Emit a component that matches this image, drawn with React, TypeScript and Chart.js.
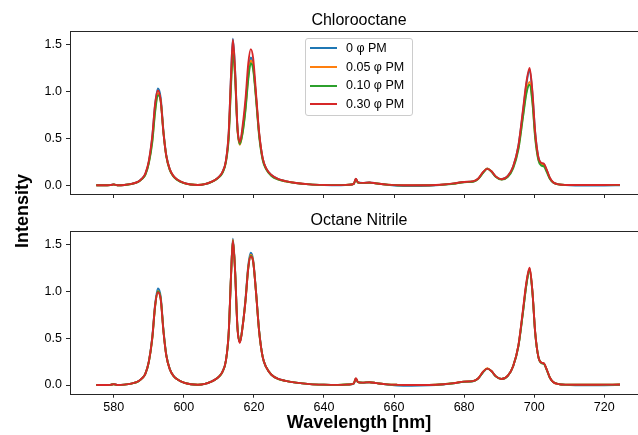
import React, { useEffect, useRef } from "react";
import { Chart, registerables } from "chart.js";

Chart.register(...registerables);

const FONT = '"Liberation Sans", Arial, Helvetica, sans-serif';

// ---- data ----
const wavelengths = [
  575, 577, 579, 580, 581, 583, 585, 587, 588, 589, 590, 591, 591.8, 592.6, 593.4, 594.2, 595, 596, 597, 598, 600,
  602, 604, 606, 608, 609, 610, 611, 612,
  612.8, 613.5, 614, 614.6, 615.3, 616, 616.8, 617.6, 618.4, 619.1, 619.8, 620.6, 621.5, 622.5, 623.5,
  625, 627, 629, 632, 636, 640, 644, 647, 648.5, 649.1, 649.7, 651, 653, 655, 658,
  661, 665, 670, 674, 677, 680, 682.5, 684, 685.5, 686.6, 687.8, 689, 690.7, 692.5,
  694, 695.5, 696.8, 697.8, 698.7, 699.5, 700.3, 701.2, 702, 702.8, 703.6, 704.5, 705.5,
  707, 709, 712, 716, 720, 724.5,
];

const seriesLabels = ["0 φ PM", "0.05 φ PM", "0.10 φ PM", "0.30 φ PM"];
const seriesColors = ["#1f77b4", "#ff7f0e", "#2ca02c", "#d62728"];

// Chlorooctane panel
const chloro0 = [
  0.0, 0.0, 0.002, 0.01, 0.001, 0.004, 0.015, 0.04, 0.07, 0.12, 0.25, 0.52, 0.86, 1.03, 0.93, 0.57, 0.32, 0.17, 0.1, 0.065, 0.025,
  0.008, 0.002, 0.012, 0.04, 0.06, 0.09, 0.14, 0.26,
  0.55, 1.2, 1.56, 1.25, 0.62, 0.45, 0.6, 0.85, 1.2, 1.36, 1.27, 0.95, 0.55, 0.29, 0.18,
  0.11, 0.065, 0.045, 0.025, 0.01, 0.003, 0.0, 0.005, 0.015, 0.068, 0.03, 0.025, 0.03, 0.02, 0.006,
  -0.006, -0.008, -0.004, 0.006, 0.018, 0.035, 0.04, 0.07, 0.14, 0.18, 0.15, 0.095, 0.065, 0.1,
  0.2, 0.42, 0.78, 1.08, 1.23, 0.98, 0.56, 0.3, 0.235, 0.225, 0.16, 0.075, 0.03,
  0.01, 0.002, -0.002, -0.003, -0.002, 0.0,
];
const chloro005 = [
  0.0, 0.0, 0.002, 0.008, 0.001, 0.004, 0.014, 0.038, 0.066, 0.115, 0.24, 0.48, 0.8, 0.98, 0.9, 0.56, 0.31, 0.165, 0.098, 0.062, 0.024,
  0.008, 0.003, 0.012, 0.038, 0.058, 0.087, 0.135, 0.25,
  0.52, 1.12, 1.46, 1.2, 0.6, 0.43, 0.57, 0.82, 1.16, 1.33, 1.25, 0.94, 0.54, 0.28, 0.175,
  0.105, 0.062, 0.043, 0.024, 0.01, 0.004, 0.002, 0.006, 0.015, 0.062, 0.03, 0.024, 0.028, 0.019, 0.007,
  0.001, -0.001, 0.0, 0.007, 0.018, 0.034, 0.04, 0.068, 0.14, 0.18, 0.15, 0.094, 0.063, 0.095,
  0.19, 0.4, 0.74, 1.0, 1.1, 0.9, 0.52, 0.28, 0.225, 0.215, 0.155, 0.072, 0.03,
  0.01, 0.004, 0.003, 0.003, 0.004, 0.005,
];
const chloro010 = [
  0.0, 0.0, 0.002, 0.008, 0.001, 0.004, 0.014, 0.037, 0.065, 0.112, 0.235, 0.46, 0.78, 0.96, 0.89, 0.55, 0.305, 0.16, 0.095, 0.06, 0.023,
  0.008, 0.003, 0.012, 0.037, 0.057, 0.085, 0.13, 0.245,
  0.5, 1.08, 1.4, 1.17, 0.6, 0.44, 0.56, 0.8, 1.13, 1.3, 1.23, 0.92, 0.52, 0.27, 0.17,
  0.1, 0.06, 0.042, 0.023, 0.01, 0.004, 0.002, 0.006, 0.015, 0.062, 0.03, 0.024, 0.028, 0.019, 0.007,
  0.001, -0.001, 0.0, 0.007, 0.017, 0.033, 0.038, 0.066, 0.135, 0.175, 0.145, 0.09, 0.06, 0.09,
  0.18, 0.38, 0.72, 0.98, 1.07, 0.88, 0.5, 0.27, 0.21, 0.2, 0.14, 0.068, 0.028,
  0.01, 0.004, 0.003, 0.003, 0.004, 0.005,
];
const chloro030 = [
  0.0, 0.0, 0.002, 0.01, 0.001, 0.004, 0.015, 0.04, 0.07, 0.125, 0.26, 0.53, 0.87, 1.01, 0.9, 0.55, 0.31, 0.17, 0.1, 0.065, 0.025,
  0.008, 0.003, 0.012, 0.04, 0.06, 0.09, 0.14, 0.26,
  0.56, 1.2, 1.55, 1.24, 0.62, 0.46, 0.64, 0.92, 1.3, 1.45, 1.35, 0.98, 0.56, 0.29, 0.18,
  0.11, 0.065, 0.045, 0.025, 0.01, 0.004, 0.002, 0.006, 0.016, 0.07, 0.032, 0.026, 0.03, 0.02, 0.007,
  0.002, 0.0, 0.001, 0.008, 0.02, 0.036, 0.042, 0.07, 0.145, 0.175, 0.15, 0.095, 0.065, 0.1,
  0.2, 0.42, 0.8, 1.1, 1.25, 1.0, 0.56, 0.3, 0.24, 0.23, 0.165, 0.078, 0.03,
  0.01, 0.004, 0.003, 0.003, 0.004, 0.005,
];

// Octane Nitrile panel
const nitrile0 = [
  0.0, 0.0, 0.002, 0.01, 0.001, 0.004, 0.015, 0.04, 0.07, 0.12, 0.25, 0.52, 0.86, 1.03, 0.94, 0.58, 0.32, 0.17, 0.1, 0.065, 0.025,
  0.008, 0.002, 0.012, 0.04, 0.06, 0.09, 0.14, 0.26,
  0.55, 1.2, 1.56, 1.25, 0.62, 0.46, 0.64, 0.92, 1.28, 1.41, 1.33, 1.0, 0.58, 0.3, 0.19,
  0.11, 0.065, 0.045, 0.025, 0.01, 0.003, 0.0, 0.005, 0.015, 0.068, 0.03, 0.025, 0.03, 0.02, 0.006,
  -0.006, -0.008, -0.004, 0.006, 0.018, 0.035, 0.04, 0.07, 0.14, 0.175, 0.15, 0.095, 0.065, 0.1,
  0.2, 0.42, 0.78, 1.08, 1.24, 1.0, 0.56, 0.3, 0.24, 0.23, 0.165, 0.078, 0.03,
  0.01, 0.002, -0.002, -0.003, -0.002, 0.0,
];
const nitrile005 = [
  0.0, 0.0, 0.002, 0.009, 0.001, 0.004, 0.015, 0.039, 0.068, 0.118, 0.245, 0.5, 0.84, 1.0, 0.92, 0.57, 0.315, 0.168, 0.099, 0.064, 0.025,
  0.008, 0.003, 0.012, 0.039, 0.059, 0.089, 0.138, 0.258,
  0.55, 1.19, 1.55, 1.24, 0.62, 0.46, 0.63, 0.9, 1.26, 1.39, 1.32, 0.99, 0.57, 0.3, 0.19,
  0.11, 0.064, 0.045, 0.025, 0.01, 0.004, 0.002, 0.006, 0.016, 0.068, 0.031, 0.026, 0.03, 0.02, 0.007,
  0.002, 0.0, 0.001, 0.008, 0.019, 0.036, 0.041, 0.07, 0.145, 0.18, 0.15, 0.095, 0.065, 0.1,
  0.2, 0.42, 0.78, 1.08, 1.24, 1.0, 0.56, 0.3, 0.24, 0.23, 0.165, 0.078, 0.03,
  0.01, 0.004, 0.003, 0.003, 0.004, 0.005,
];
const nitrile010 = [
  0.0, 0.0, 0.002, 0.009, 0.001, 0.004, 0.015, 0.039, 0.068, 0.118, 0.245, 0.5, 0.84, 1.0, 0.92, 0.57, 0.315, 0.168, 0.099, 0.064, 0.025,
  0.008, 0.003, 0.012, 0.039, 0.059, 0.089, 0.138, 0.258,
  0.55, 1.19, 1.54, 1.24, 0.62, 0.46, 0.63, 0.9, 1.25, 1.38, 1.31, 0.99, 0.57, 0.3, 0.19,
  0.11, 0.064, 0.045, 0.025, 0.01, 0.004, 0.002, 0.006, 0.016, 0.068, 0.031, 0.026, 0.03, 0.02, 0.007,
  0.002, 0.0, 0.001, 0.008, 0.019, 0.035, 0.04, 0.069, 0.14, 0.175, 0.148, 0.094, 0.064, 0.098,
  0.2, 0.41, 0.77, 1.07, 1.22, 0.99, 0.55, 0.3, 0.235, 0.225, 0.16, 0.076, 0.03,
  0.01, 0.004, 0.003, 0.003, 0.004, 0.005,
];
const nitrile030 = [
  0.0, 0.0, 0.002, 0.01, 0.001, 0.004, 0.015, 0.04, 0.07, 0.12, 0.25, 0.51, 0.85, 0.99, 0.91, 0.56, 0.31, 0.167, 0.099, 0.064, 0.025,
  0.008, 0.003, 0.012, 0.04, 0.06, 0.09, 0.14, 0.26,
  0.56, 1.2, 1.54, 1.23, 0.61, 0.45, 0.63, 0.9, 1.25, 1.37, 1.31, 0.99, 0.57, 0.3, 0.19,
  0.11, 0.065, 0.045, 0.025, 0.01, 0.004, 0.002, 0.006, 0.016, 0.072, 0.032, 0.026, 0.03, 0.02, 0.007,
  0.002, 0.0, 0.001, 0.008, 0.02, 0.036, 0.042, 0.07, 0.145, 0.175, 0.15, 0.095, 0.065, 0.1,
  0.2, 0.42, 0.8, 1.1, 1.25, 1.0, 0.56, 0.3, 0.24, 0.23, 0.165, 0.078, 0.03,
  0.01, 0.004, 0.003, 0.003, 0.004, 0.005,
];

const xTicks = [580, 600, 620, 640, 660, 680, 700, 720];
const yTicks = [0.0, 0.5, 1.0, 1.5];
const panelTitles = ["Chlorooctane", "Octane Nitrile"];
const xTitle = "Wavelength [nm]";
const yTitle = "Intensity";

// axis limits
const X_MIN = 567.5;
const X_MAX = 732.5;
const Y_MIN = -0.0925;
const Y_MAX = 1.648;

const framePlugin = {
  id: "frame",
  afterDraw(chart: any) {
    const { ctx, chartArea: a } = chart;
    ctx.save();
    ctx.strokeStyle = "#262626";
    ctx.lineWidth = 1;
    const l = Math.round(a.left) + 0.5;
    const t = Math.round(a.top) + 0.5;
    const r = Math.round(a.right) + 0.5;
    const b = Math.round(a.bottom) + 0.5;
    ctx.strokeRect(l, t, r - l, b - t);
    ctx.restore();
  },
};

type PanelProps = {
  series: number[][];
  title: string;
  top: number;
  height: number;
  isBottom: boolean;
  titlePadTop: number;
  xAxisHeight: number;
};

function Panel({ series, title, top, height, isBottom, titlePadTop, xAxisHeight }: PanelProps) {
  const ref = useRef<HTMLCanvasElement | null>(null);

  useEffect(() => {
    if (!ref.current) return;
    const tickFont = { family: FONT, size: 12.5 };
    const chart = new Chart(ref.current, {
      type: "line",
      data: {
        datasets: series.map((ys, i) => ({
          label: seriesLabels[i],
          data: wavelengths.map((x, j) => ({ x, y: ys[j] })),
          borderColor: seriesColors[i],
          backgroundColor: seriesColors[i],
          borderWidth: 1.9,
          pointRadius: 0,
          fill: false,
          order: series.length - 1 - i,
          cubicInterpolationMode: "monotone",
        })),
      },
      options: {
        animation: false,
        responsive: false,
        devicePixelRatio: 1,
        events: [],
        layout: { padding: { left: 0, right: 12, top: 0, bottom: 0 } },
        plugins: {
          legend: { display: false },
          tooltip: { enabled: false },
          title: {
            display: true,
            fullSize: false,
            text: title,
            color: "#000",
            font: { family: FONT, size: 16, weight: "normal" },
            padding: { top: titlePadTop, bottom: 0 },
          },
        },
        scales: {
          x: {
            type: "linear",
            min: X_MIN,
            max: X_MAX,
            bounds: "data",
            afterBuildTicks: (s: any) => {
              s.ticks = xTicks.map((v) => ({ value: v }));
            },
            afterFit: (s: any) => {
              s.height = xAxisHeight;
              s.paddingLeft = 0;
              s.paddingRight = 0;
            },
            ticks: {
              display: isBottom,
              font: tickFont,
              color: "#000",
              padding: 2,
              maxRotation: 0,
              autoSkip: false,
              callback: (v: any) => String(v),
            },
            grid: {
              drawOnChartArea: false,
              drawTicks: true,
              tickLength: 4,
              tickColor: "#262626",
              tickWidth: 1,
            },
            border: { display: false },
            title: {
              display: isBottom,
              text: xTitle,
              color: "#000",
              font: { family: FONT, size: 18, weight: "bold" },
              padding: { top: 0, bottom: 1.5 },
            },
          },
          y: {
            type: "linear",
            min: Y_MIN,
            max: Y_MAX,
            bounds: "data",
            afterBuildTicks: (s: any) => {
              s.ticks = yTicks.map((v) => ({ value: v }));
            },
            afterFit: (s: any) => {
              s.width = 70;
              s.paddingTop = 0;
              s.paddingBottom = 0;
            },
            ticks: {
              font: tickFont,
              color: "#000",
              padding: 4,
              callback: (v: any) => Number(v).toFixed(1),
            },
            grid: {
              drawOnChartArea: false,
              drawTicks: true,
              tickLength: 4,
              tickColor: "#262626",
              tickWidth: 1,
            },
            border: { display: false },
          },
        },
      } as any,
      plugins: [framePlugin],
    } as any);
    return () => chart.destroy();
  }, []);

  return (
    <canvas
      ref={ref}
      width={660}
      height={height}
      style={{ position: "absolute", left: 0, top, width: 660, height }}
    />
  );
}

function Legend() {
  const rowCenters = [10.8, 29.5, 48.2, 66.9];
  return (
    <div
      style={{
        position: "absolute",
        left: 305,
        top: 37.5,
        width: 108,
        height: 78,
        boxSizing: "border-box",
        border: "1px solid #cccccc",
        borderRadius: 3,
        background: "rgba(255,255,255,0.8)",
        fontFamily: FONT,
        fontSize: 12.5,
        color: "#000",
      }}
    >
      {seriesLabels.map((lab, i) => (
        <React.Fragment key={lab}>
          <div
            style={{
              position: "absolute",
              left: 3.5,
              top: rowCenters[i] - 1 - 1,
              width: 27,
              height: 2,
              background: seriesColors[i],
            }}
          />
          <div
            style={{
              position: "absolute",
              left: 40,
              top: rowCenters[i] - 1 - 7.5,
              lineHeight: "15px",
              whiteSpace: "nowrap",
            }}
          >
            {lab}
          </div>
        </React.Fragment>
      ))}
    </div>
  );
}

export default function App() {
  return (
    <div
      style={{
        position: "fixed",
        left: 0,
        top: 0,
        width: 638,
        height: 435,
        overflow: "hidden",
        background: "#fff",
      }}
    >
      <Panel
        series={[chloro0, chloro005, chloro010, chloro030]}
        title={panelTitles[0]}
        top={0}
        height={205}
        isBottom={false}
        titlePadTop={11.3}
        xAxisHeight={11}
      />
      <Panel
        series={[nitrile0, nitrile005, nitrile010, nitrile030]}
        title={panelTitles[1]}
        top={205}
        height={230}
        isBottom={true}
        titlePadTop={6.3}
        xAxisHeight={41.3}
      />
      <Legend />
      <div
        style={{
          position: "absolute",
          left: 22,
          top: 211,
          transform: "translate(-50%, -50%) rotate(-90deg)",
          fontFamily: FONT,
          fontWeight: "bold",
          fontSize: 18,
          lineHeight: "18px",
          whiteSpace: "nowrap",
          color: "#000",
        }}
      >
        {yTitle}
      </div>
    </div>
  );
}
